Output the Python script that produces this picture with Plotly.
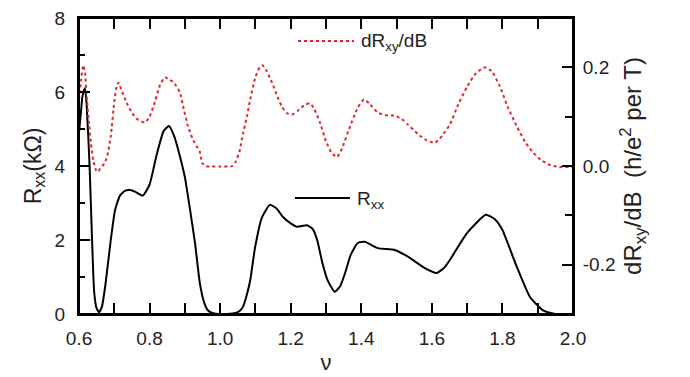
import plotly.graph_objects as go

# R_xx (kOhm) vs filling factor nu
nu_rxx = [0.600, 0.605, 0.610, 0.617, 0.622, 0.630, 0.637, 0.643, 0.650, 0.657, 0.665, 0.675, 0.690,
          0.702, 0.716, 0.730, 0.745, 0.760, 0.781, 0.800, 0.820, 0.840, 0.855, 0.870, 0.885, 0.900,
          0.915, 0.929, 0.943, 0.955, 0.965, 0.980, 1.000, 1.040, 1.055, 1.065, 1.075, 1.085, 1.099,
          1.118, 1.141, 1.160, 1.178, 1.200, 1.218, 1.246, 1.262, 1.275, 1.290, 1.305, 1.325, 1.340,
          1.354, 1.370, 1.390, 1.410, 1.447, 1.495, 1.532, 1.580, 1.614, 1.635, 1.651, 1.700, 1.753,
          1.780, 1.800, 1.841, 1.878, 1.915, 1.940, 1.950]
rxx = [4.9, 5.4, 5.9, 6.1, 5.6, 4.0, 2.0, 0.6, 0.15, 0.05, 0.2, 0.8, 2.0,
       2.8, 3.2, 3.33, 3.35, 3.3, 3.2, 3.5, 4.3, 4.95, 5.08, 4.8, 4.3, 3.7,
       2.8, 1.9, 0.8, 0.3, 0.1, 0.02, 0.0, 0.02, 0.08, 0.2, 0.5, 0.9, 1.8,
       2.6, 2.95, 2.85, 2.62, 2.45, 2.36, 2.4, 2.3, 2.0, 1.37, 0.9, 0.6, 0.75,
       1.1, 1.6, 1.92, 1.95, 1.78, 1.73, 1.55, 1.24, 1.11, 1.25, 1.46, 2.19, 2.68,
       2.55, 2.27, 1.27, 0.46, 0.1, 0.02, 0.0]

# dR_xy/dB (h/e^2 per T) vs nu
nu_dr = [0.600, 0.606, 0.612, 0.617, 0.622, 0.628, 0.634, 0.641, 0.648, 0.654, 0.660, 0.666, 0.672,
         0.680, 0.690, 0.700, 0.707, 0.712, 0.720, 0.735, 0.750, 0.765, 0.787, 0.800, 0.815, 0.830,
         0.844, 0.855, 0.866, 0.875, 0.886, 0.897, 0.909, 0.922, 0.934, 0.942, 0.949, 0.958, 0.970,
         1.000, 1.036, 1.045, 1.055, 1.065, 1.076, 1.085, 1.100, 1.112, 1.120, 1.130, 1.147, 1.160,
         1.175, 1.190, 1.203, 1.220, 1.240, 1.255, 1.265, 1.283, 1.300, 1.315, 1.331, 1.345, 1.368,
         1.390, 1.408, 1.425, 1.447, 1.470, 1.495, 1.515, 1.532, 1.560, 1.585, 1.609, 1.630, 1.651,
         1.675, 1.700, 1.725, 1.750, 1.770, 1.793, 1.815, 1.841, 1.865, 1.887, 1.910, 1.935, 1.960,
         2.000]
drxy = [0.135, 0.175, 0.204, 0.19, 0.14, 0.09, 0.045, 0.01, -0.008, -0.012, -0.005, 0.0, 0.005,
        0.02, 0.06, 0.13, 0.163, 0.169, 0.155, 0.128, 0.108, 0.095, 0.088, 0.10, 0.13, 0.165,
        0.18, 0.175, 0.171, 0.163, 0.149, 0.115, 0.08, 0.055, 0.039, 0.03, 0.006, 0.0, -0.001,
        -0.001, 0.0, 0.01, 0.03, 0.067, 0.1, 0.135, 0.18, 0.2, 0.204, 0.195, 0.169, 0.145,
        0.12, 0.107, 0.104, 0.112, 0.124, 0.127, 0.118, 0.088, 0.05, 0.028, 0.018, 0.035, 0.08,
        0.118, 0.135, 0.125, 0.108, 0.103, 0.102, 0.095, 0.084, 0.065, 0.052, 0.047, 0.062, 0.084,
        0.125, 0.161, 0.188, 0.2, 0.192, 0.161, 0.12, 0.08, 0.048, 0.027, 0.012, 0.002, -0.002,
        -0.002]

RED = "#e3262b"
FONT = "Liberation Sans, Arial, sans-serif"
TXT = "#222"

fig = go.Figure()
fig.add_trace(go.Scatter(x=nu_rxx, y=rxx, mode="lines", name="Rxx",
                         line=dict(color="black", width=2, shape="spline", smoothing=0.5),
                         showlegend=False))
fig.add_trace(go.Scatter(x=nu_dr, y=drxy, mode="lines", name="dRxy/dB", yaxis="y2",
                         line=dict(color=RED, width=2, dash="dot", shape="spline", smoothing=0.5),
                         showlegend=False))

# page body adds an 8px offset; the figure is sized to compensate
OFF = 8
W, H = 690 - OFF, 377 - OFF
L, T = 79 - OFF, 18 - OFF
pw, ph = 494, 296
R = W - L - pw
B = H - T - ph

def px(x):
    return (x - OFF - L) / pw

def py(y):
    return (T + ph - (y - OFF)) / ph

axis_common = dict(showline=True, linecolor="black", linewidth=2, ticks="inside",
                   tickcolor="black", tickwidth=2, ticklen=11, showgrid=False, zeroline=False,
                   ticklabeloverflow="allow",
                   tickfont=dict(family=FONT, size=19, color=TXT))

fig.update_layout(
    width=W, height=H, margin=dict(l=L, r=R, t=T, b=B, autoexpand=False),
    plot_bgcolor="white", paper_bgcolor="white",
    xaxis=dict(range=[0.6, 2.0], dtick=0.2, tick0=0.6, tickformat=".1f", mirror="allticks",
               minor=dict(dtick=0.1, ticks="inside", ticklen=6, tickwidth=2, tickcolor="black"),
               title=dict(text="ν", font=dict(family=FONT, size=22, color=TXT), standoff=7),
               ticklabelstandoff=6, **axis_common),
    yaxis=dict(range=[0, 8], dtick=2, tick0=0,
               minor=dict(dtick=1, ticks="inside", ticklen=6, tickwidth=2, tickcolor="black"),
               title=dict(text="R<sub>xx</sub>(kΩ)", font=dict(family=FONT, size=23, color=TXT),
                          standoff=7),
               ticklabelstandoff=8, **axis_common),
    yaxis2=dict(range=[-0.3, 0.3], overlaying="y", side="right", tick0=0, dtick=0.2,
                tickvals=[-0.2, 0.0, 0.2], ticktext=["-0.2", "0.0", "0.2"],
                minor=dict(tickvals=[-0.1, 0.1], ticks="inside", ticklen=8, tickwidth=2,
                           tickcolor="black"),
                title=dict(text="dR<sub>xy</sub>/dB  (h/e<sup>2</sup> per T)",
                           font=dict(family=FONT, size=24, color=TXT), standoff=8),
                ticklabelstandoff=4, **axis_common),
    shapes=[
        dict(type="rect", xref="paper", yref="paper", x0=0, x1=1, y0=0, y1=1,
             line=dict(color="black", width=2), layer="above"),
        dict(type="line", xref="paper", yref="paper", x0=px(298), x1=px(354), y0=py(41), y1=py(41),
             line=dict(color=RED, width=2, dash="dot")),
        dict(type="line", xref="paper", yref="paper", x0=px(295), x1=px(350), y0=py(198), y1=py(198),
             line=dict(color="black", width=2)),
    ],
    annotations=[
        dict(xref="paper", yref="paper", x=px(359), y=py(42), xanchor="left", yanchor="middle",
             text="dR<sub>xy</sub>/dB", showarrow=False, font=dict(family=FONT, size=19, color=TXT)),
        dict(xref="paper", yref="paper", x=px(355), y=py(200), xanchor="left", yanchor="middle",
             text="R<sub>xx</sub>", showarrow=False, font=dict(family=FONT, size=19, color=TXT)),
    ],
)

fig.write_html("out.html")
